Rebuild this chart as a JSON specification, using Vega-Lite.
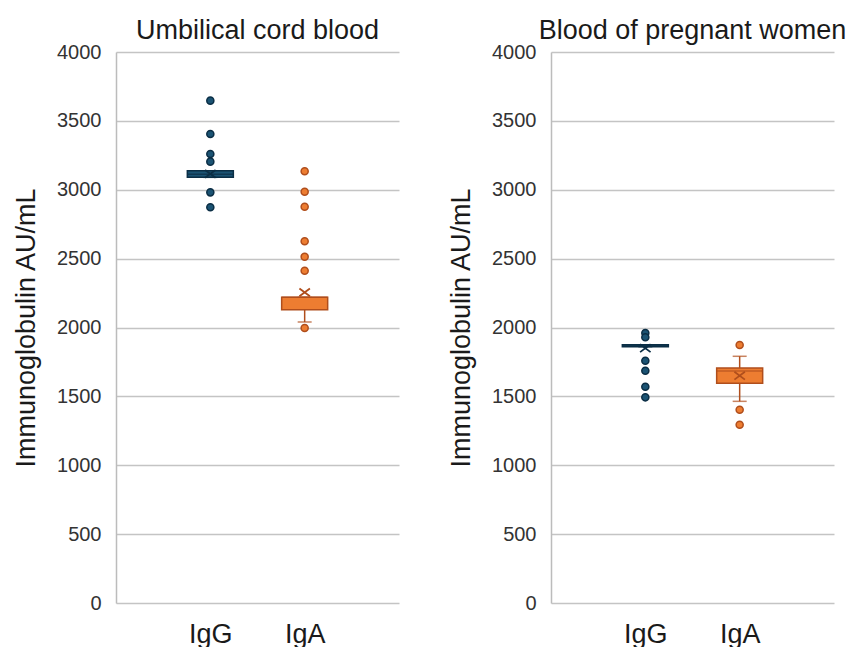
{
  "$schema": "https://vega.github.io/schema/vega-lite/v6.json",
  "background": "white",
  "padding": {"left": 12, "top": 17, "right": 5, "bottom": 0},
  "data": {
    "values": [
      {"panel": "Umbilical cord blood", "group": "IgG", "kind": "box", "q1": 3090, "q3": 3138, "median": 3112, "lo": 3090, "hi": 3138, "mean": 3115},
      {"panel": "Umbilical cord blood", "group": "IgA", "kind": "box", "q1": 2129, "q3": 2219, "median": 2219, "lo": 2040, "hi": 2219, "mean": 2255},
      {"panel": "Blood of pregnant women", "group": "IgG", "kind": "box", "q1": 1860, "q3": 1875, "median": 1868, "lo": 1860, "hi": 1875, "mean": 1850},
      {"panel": "Blood of pregnant women", "group": "IgA", "kind": "box", "q1": 1595, "q3": 1706, "median": 1685, "lo": 1464, "hi": 1791, "mean": 1650},
      {"panel": "Umbilical cord blood", "group": "IgG", "kind": "out", "value": 3647},
      {"panel": "Umbilical cord blood", "group": "IgG", "kind": "out", "value": 3405},
      {"panel": "Umbilical cord blood", "group": "IgG", "kind": "out", "value": 3259},
      {"panel": "Umbilical cord blood", "group": "IgG", "kind": "out", "value": 3204},
      {"panel": "Umbilical cord blood", "group": "IgG", "kind": "out", "value": 2981},
      {"panel": "Umbilical cord blood", "group": "IgG", "kind": "out", "value": 2873},
      {"panel": "Umbilical cord blood", "group": "IgA", "kind": "out", "value": 3134},
      {"panel": "Umbilical cord blood", "group": "IgA", "kind": "out", "value": 2986},
      {"panel": "Umbilical cord blood", "group": "IgA", "kind": "out", "value": 2877},
      {"panel": "Umbilical cord blood", "group": "IgA", "kind": "out", "value": 2626},
      {"panel": "Umbilical cord blood", "group": "IgA", "kind": "out", "value": 2514},
      {"panel": "Umbilical cord blood", "group": "IgA", "kind": "out", "value": 2412},
      {"panel": "Umbilical cord blood", "group": "IgA", "kind": "out", "value": 1996},
      {"panel": "Blood of pregnant women", "group": "IgG", "kind": "out", "value": 1960},
      {"panel": "Blood of pregnant women", "group": "IgG", "kind": "out", "value": 1929},
      {"panel": "Blood of pregnant women", "group": "IgG", "kind": "out", "value": 1759},
      {"panel": "Blood of pregnant women", "group": "IgG", "kind": "out", "value": 1686},
      {"panel": "Blood of pregnant women", "group": "IgG", "kind": "out", "value": 1570},
      {"panel": "Blood of pregnant women", "group": "IgG", "kind": "out", "value": 1493},
      {"panel": "Blood of pregnant women", "group": "IgA", "kind": "out", "value": 1873},
      {"panel": "Blood of pregnant women", "group": "IgA", "kind": "out", "value": 1403},
      {"panel": "Blood of pregnant women", "group": "IgA", "kind": "out", "value": 1294}
    ]
  },
  "facet": {
    "column": {
      "field": "panel",
      "type": "nominal",
      "sort": "descending",
      "header": {
        "title": null,
        "labelFont": "Liberation Sans",
        "labelFontSize": 27,
        "labelColor": "#1a1a1a",
        "labelPadding": -3
      }
    }
  },
  "spacing": 48,
  "resolve": {"axis": {"y": "independent"}},
  "spec": {
    "width": 283,
    "height": 551,
    "encoding": {
      "x": {
        "field": "group",
        "type": "nominal",
        "sort": ["IgG", "IgA"],
        "scale": {"type": "point", "padding": 1},
        "axis": {
          "title": null,
          "labelAngle": 0,
          "ticks": false,
          "domain": false,
          "grid": false,
          "labelFont": "Liberation Sans",
          "labelFontSize": 27,
          "labelColor": "#1a1a1a",
          "labelPadding": 8
        }
      }
    },
    "layer": [
      {
        "transform": [{"filter": "datum.kind == 'box'"}],
        "mark": {"type": "rule", "strokeWidth": 1.5},
        "encoding": {
          "y": {
            "field": "lo",
            "type": "quantitative",
            "scale": {"domain": [0, 4000], "nice": false},
            "axis": {
              "title": "Immunoglobulin AU/mL",
              "values": [0, 500, 1000, 1500, 2000, 2500, 3000, 3500, 4000],
              "format": "d",
              "grid": true,
              "gridColor": "#c4c4c4",
              "gridWidth": 1.5,
              "domain": true,
              "domainColor": "#bcbcbc",
              "domainWidth": 1.5,
              "ticks": false,
              "labelFont": "Liberation Sans",
              "labelFontSize": 20,
              "labelColor": "#333333",
              "labelPadding": 15,
              "titleFont": "Liberation Sans",
              "titleFontSize": 27,
              "titleFontWeight": "normal",
              "titleColor": "#1a1a1a",
              "titlePadding": 16
            }
          },
          "y2": {"field": "hi"},
          "stroke": {"field": "group", "type": "nominal", "scale": {"domain": ["IgG", "IgA"], "range": ["#0b2e45", "#b04e1c"]}, "legend": null}
        }
      },
      {
        "transform": [{"filter": "datum.kind == 'box'"}],
        "mark": {"type": "tick", "size": 14, "thickness": 1.5},
        "encoding": {
          "y": {"field": "lo", "type": "quantitative"},
          "color": {"field": "group", "type": "nominal", "scale": {"domain": ["IgG", "IgA"], "range": ["#0b2e45", "#b04e1c"]}, "legend": null}
        }
      },
      {
        "transform": [{"filter": "datum.kind == 'box'"}],
        "mark": {"type": "tick", "size": 14, "thickness": 1.5},
        "encoding": {
          "y": {"field": "hi", "type": "quantitative"},
          "color": {"field": "group", "type": "nominal", "scale": {"domain": ["IgG", "IgA"], "range": ["#0b2e45", "#b04e1c"]}, "legend": null}
        }
      },
      {
        "transform": [{"filter": "datum.kind == 'box'"}],
        "mark": {"type": "bar", "size": 46, "strokeWidth": 1.5},
        "encoding": {
          "y": {"field": "q1", "type": "quantitative"},
          "y2": {"field": "q3"},
          "fill": {"field": "group", "type": "nominal", "scale": {"domain": ["IgG", "IgA"], "range": ["#1b5373", "#ed7d31"]}, "legend": null},
          "stroke": {"field": "group", "type": "nominal", "legend": null}
        }
      },
      {
        "transform": [{"filter": "datum.kind == 'box'"}],
        "mark": {"type": "tick", "size": 46, "thickness": 1.5},
        "encoding": {
          "y": {"field": "median", "type": "quantitative"},
          "color": {"field": "group", "type": "nominal", "scale": {"domain": ["IgG", "IgA"], "range": ["#0b2e45", "#b04e1c"]}, "legend": null}
        }
      },
      {
        "transform": [{"filter": "datum.kind == 'box'"}],
        "mark": {"type": "point", "shape": "M-1,-0.75L1,0.75M-1,0.75L1,-0.75", "filled": false, "size": 110, "strokeWidth": 1.8, "opacity": 1},
        "encoding": {
          "y": {"field": "mean", "type": "quantitative"},
          "stroke": {"field": "group", "type": "nominal", "legend": null}
        }
      },
      {
        "transform": [{"filter": "datum.kind == 'out'"}],
        "mark": {"type": "point", "shape": "circle", "filled": true, "size": 50, "strokeWidth": 1.5, "opacity": 1},
        "encoding": {
          "y": {"field": "value", "type": "quantitative"},
          "fill": {"field": "group", "type": "nominal", "legend": null},
          "stroke": {"field": "group", "type": "nominal", "legend": null}
        }
      }
    ]
  },
  "config": {
    "view": {"stroke": null}
  }
}
